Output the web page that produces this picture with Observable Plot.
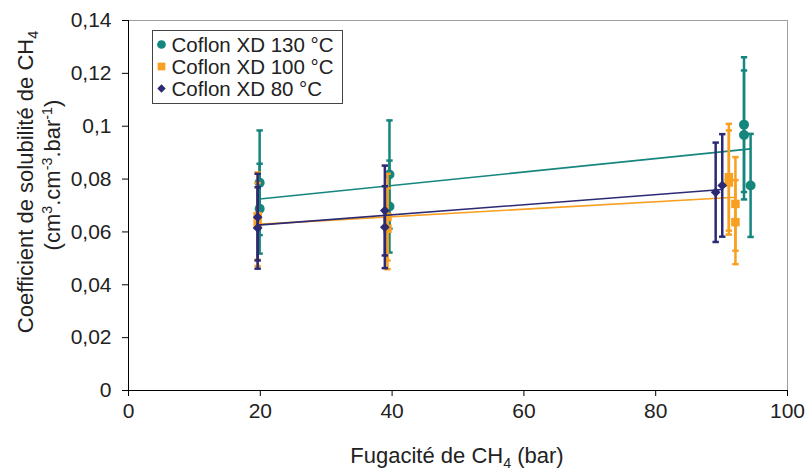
<!DOCTYPE html>
<html><head><meta charset="utf-8">
<script src="https://cdn.jsdelivr.net/npm/d3@7"></script>
<script src="https://cdn.jsdelivr.net/npm/@observablehq/plot@0.6"></script>
<style>
body{margin:0;background:#fff}
svg{font-family:"Liberation Sans",Arial,sans-serif}
</style>
</head><body><div id="chart"></div>
<script>
// ---- data ----
const seriesNames = ["Coflon XD 130 °C", "Coflon XD 100 °C", "Coflon XD 80 °C"];
const seriesColors = ["#15867e", "#f8a021", "#2c2a74"];
const seriesSymbols = ["circle", "square", "diamond2"];

const fug130  = [19.9, 19.9, 39.6, 39.6, 93.4, 93.4, 94.4];
const coef130 = [0.0786, 0.0688, 0.0817, 0.0696, 0.1006, 0.0967, 0.0776];
const err130  = [0.0198, 0.0170, 0.0205, 0.0174, 0.0255, 0.0244, 0.0195];

const fug100  = [19.6, 19.6, 39.3, 39.3, 91.1, 91.1, 92.1, 92.1];
const coef100 = [0.0660, 0.0628, 0.0656, 0.0612, 0.0807, 0.0787, 0.0706, 0.0637];
const err100  = [0.0165, 0.0157, 0.0164, 0.0153, 0.0202, 0.0197, 0.0177, 0.0159];

const fug80   = [19.6, 19.6, 38.9, 38.9, 89.1, 90.1];
const coef80  = [0.0656, 0.0615, 0.0681, 0.0618, 0.0750, 0.0776];
const err80   = [0.0164, 0.0154, 0.0170, 0.0155, 0.0188, 0.0194];

const xTicks = [0, 20, 40, 60, 80, 100];
const yTicks = [0, 0.02, 0.04, 0.06, 0.08, 0.1, 0.12, 0.14];

// ---- build tables ----
const fugs = [fug130, fug100, fug80], coefs = [coef130, coef100, coef80], errs = [err130, err100, err80];
const tables = fugs.map((f, s) => f.map((x, i) => ({
  series: seriesNames[s], x, y: coefs[s][i], lo: coefs[s][i] - errs[s][i], hi: coefs[s][i] + errs[s][i]
})));

const cap = {draw(ctx, size) { const w = Math.sqrt(size) / 2; ctx.moveTo(-w, 0); ctx.lineTo(w, 0); }};
const fmt = d => String(d).replace(".", ",");
const FS = 21;    // tick labels
const TS = 22;    // axis titles
const LS = 20.5;  // legend

const marks = [
  Plot.frame({stroke: "#a0a0a0"}),
  Plot.ruleX([0], {stroke: "#000"}),
  Plot.ruleY([0], {stroke: "#000"}),
  Plot.axisX({ticks: xTicks, tickFormat: d => String(d), tickSize: 6, tickPadding: 7, fontSize: FS, stroke: "#000", color: "#222", label: null}),
  Plot.axisY({ticks: yTicks, tickFormat: fmt, tickSize: 6, tickPadding: 11, fontSize: FS, stroke: "#000", color: "#222", label: null})
];
tables.forEach((t, s) => {
  const c = seriesColors[s];
  marks.push(
    Plot.linearRegressionY(t, {x: "x", y: "y", stroke: c, strokeWidth: 1.6, ci: 0}),
    Plot.ruleX(t, {x: "x", y1: "lo", y2: "hi", stroke: c, strokeWidth: 2.5}),
    Plot.dot(t, {x: "x", y: "lo", symbol: cap, r: 3.6, stroke: c, strokeWidth: 2.5}),
    Plot.dot(t, {x: "x", y: "hi", symbol: cap, r: 3.6, stroke: c, strokeWidth: 2.5}),
    Plot.dot(t, {x: "x", y: "y", symbol: seriesSymbols[s], r: s === 0 ? 5 : (s === 1 ? 4.8 : 4.4), fill: c, stroke: "none"})
  );
});

const chart = Plot.plot({
  width: 809, height: 471,
  marginLeft: 128, marginRight: 22, marginTop: 20, marginBottom: 81,
  x: {domain: [0, 100]},
  y: {domain: [0, 0.14]},
  style: {fontFamily: '"Liberation Sans", Arial, sans-serif', background: "#fff"},
  marks
});
document.getElementById("chart").appendChild(chart);

// ---- titles with sub/superscripts ----
const svg = d3.select(chart);
const xt = svg.append("text").attr("x", 457).attr("y", 463).attr("text-anchor", "middle")
  .attr("font-size", TS).attr("fill", "#222");
xt.append("tspan").text("Fugacité de CH");
xt.append("tspan").attr("font-size", TS * 0.65).attr("dy", 5).text("4");
xt.append("tspan").attr("dy", -5).text(" (bar)");

const yt = svg.append("g").attr("transform", "translate(33,182) rotate(-90)")
  .attr("font-size", TS).attr("fill", "#222");
const l1 = yt.append("text").attr("text-anchor", "middle");
l1.append("tspan").text("Coefficient de solubilité de CH");
l1.append("tspan").attr("font-size", TS * 0.65).attr("dy", 5).text("4");
const l2 = yt.append("text").attr("text-anchor", "middle").attr("x", 7).attr("y", 27);
l2.append("tspan").text("(cm");
l2.append("tspan").attr("font-size", TS * 0.65).attr("dy", -8).text("3");
l2.append("tspan").attr("dy", 8).text(".cm");
l2.append("tspan").attr("font-size", TS * 0.65).attr("dy", -8).text("-3");
l2.append("tspan").attr("dy", 8).text(".bar");
l2.append("tspan").attr("font-size", TS * 0.65).attr("dy", -8).text("-1");
l2.append("tspan").attr("dy", 8).text(")");

// ---- legend ----
const lg = svg.append("g").attr("transform", "translate(152.5,30.5)");
lg.append("rect").attr("width", 190).attr("height", 73).attr("fill", "#fff").attr("stroke", "#444");
const symFns = [d3.symbolCircle, d3.symbolSquare, d3.symbolDiamond2];
const symSizes = [60, 60, 45];
seriesNames.forEach((n, i) => {
  const yy = 14 + i * 22;
  lg.append("path").attr("d", d3.symbol(symFns[i], symSizes[i])()).attr("transform", `translate(9,${yy})`).attr("fill", seriesColors[i]);
  lg.append("text").attr("x", 19).attr("y", yy).attr("dy", "0.35em").attr("text-anchor", "start")
    .attr("font-size", LS).attr("fill", "#222").text(n);
});
</script></body></html>
